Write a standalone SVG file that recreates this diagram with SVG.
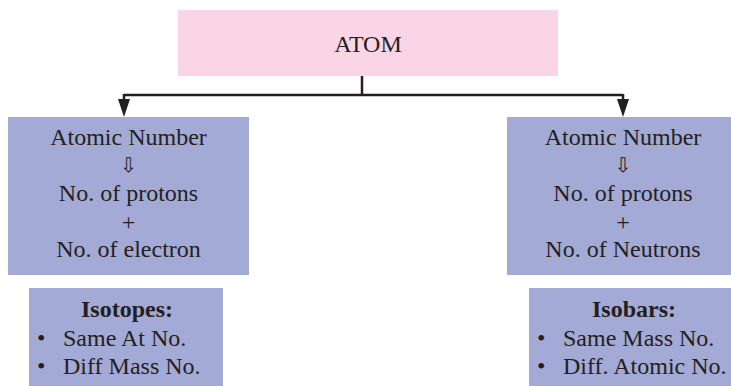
<svg xmlns="http://www.w3.org/2000/svg" width="731" height="386" viewBox="0 0 731 386">
<style>
.t{font-family:"Liberation Serif","Times New Roman",serif;font-size:24px;fill:#231f20;text-anchor:middle}
.b{font-weight:bold}
.l{text-anchor:start}
.pink{fill:#f9d5e6}
.blue{fill:#a3aad6}
.arr{font-family:"DejaVu Sans",sans-serif;font-size:20px;fill:#231f20;text-anchor:middle}
.c{stroke:#231f20;stroke-width:2.5;fill:none}
.ah{fill:#231f20}
</style>
<rect width="731" height="386" fill="#fff"/>
<g id="connectors">
<path class="c" d="M362,76 V95"/>
<path class="c" d="M124,95 H623"/>
<path class="c" d="M124,94 V102"/>
<path class="c" d="M623,94 V102"/>
<path class="ah" d="M118,99 L130,99 L124,117 Z"/>
<path class="ah" d="M617,99 L629,99 L623,117 Z"/>
</g>
<g id="atom">
<rect class="pink" x="178" y="10" width="380" height="66"/>
<text class="t" x="368" y="52">ATOM</text>
</g>
<g id="left">
<rect class="blue" x="8" y="117" width="241" height="158"/>
<text class="t" x="128.5" y="145">Atomic Number</text>
<text class="arr" x="128.5" y="172">⇩</text>
<text class="t" x="128.5" y="201">No. of protons</text>
<text class="t" x="128.5" y="230">+</text>
<text class="t" x="128.5" y="257">No. of electron</text>
</g>
<g id="right">
<rect class="blue" x="507" y="117" width="233" height="158"/>
<text class="t" x="623" y="145">Atomic Number</text>
<text class="arr" x="623" y="172">⇩</text>
<text class="t" x="623" y="201">No. of protons</text>
<text class="t" x="623" y="230">+</text>
<text class="t" x="623" y="257">No. of Neutrons</text>
</g>
<g id="isotopes">
<rect class="blue" x="29" y="288" width="194" height="98"/>
<text class="t b" x="127" y="317">Isotopes:</text>
<text class="t l" x="37" y="346">•</text>
<text class="t l" x="63" y="346">Same At No.</text>
<text class="t l" x="37" y="374">•</text>
<text class="t l" x="63" y="374">Diff Mass No.</text>
</g>
<g id="isobars">
<rect class="blue" x="529" y="288" width="210" height="98"/>
<text class="t b" x="634" y="317">Isobars:</text>
<text class="t l" x="537" y="346">•</text>
<text class="t l" x="563" y="346">Same Mass No.</text>
<text class="t l" x="537" y="374">•</text>
<text class="t l" x="563" y="374">Diff. Atomic No.</text>
</g>
</svg>
